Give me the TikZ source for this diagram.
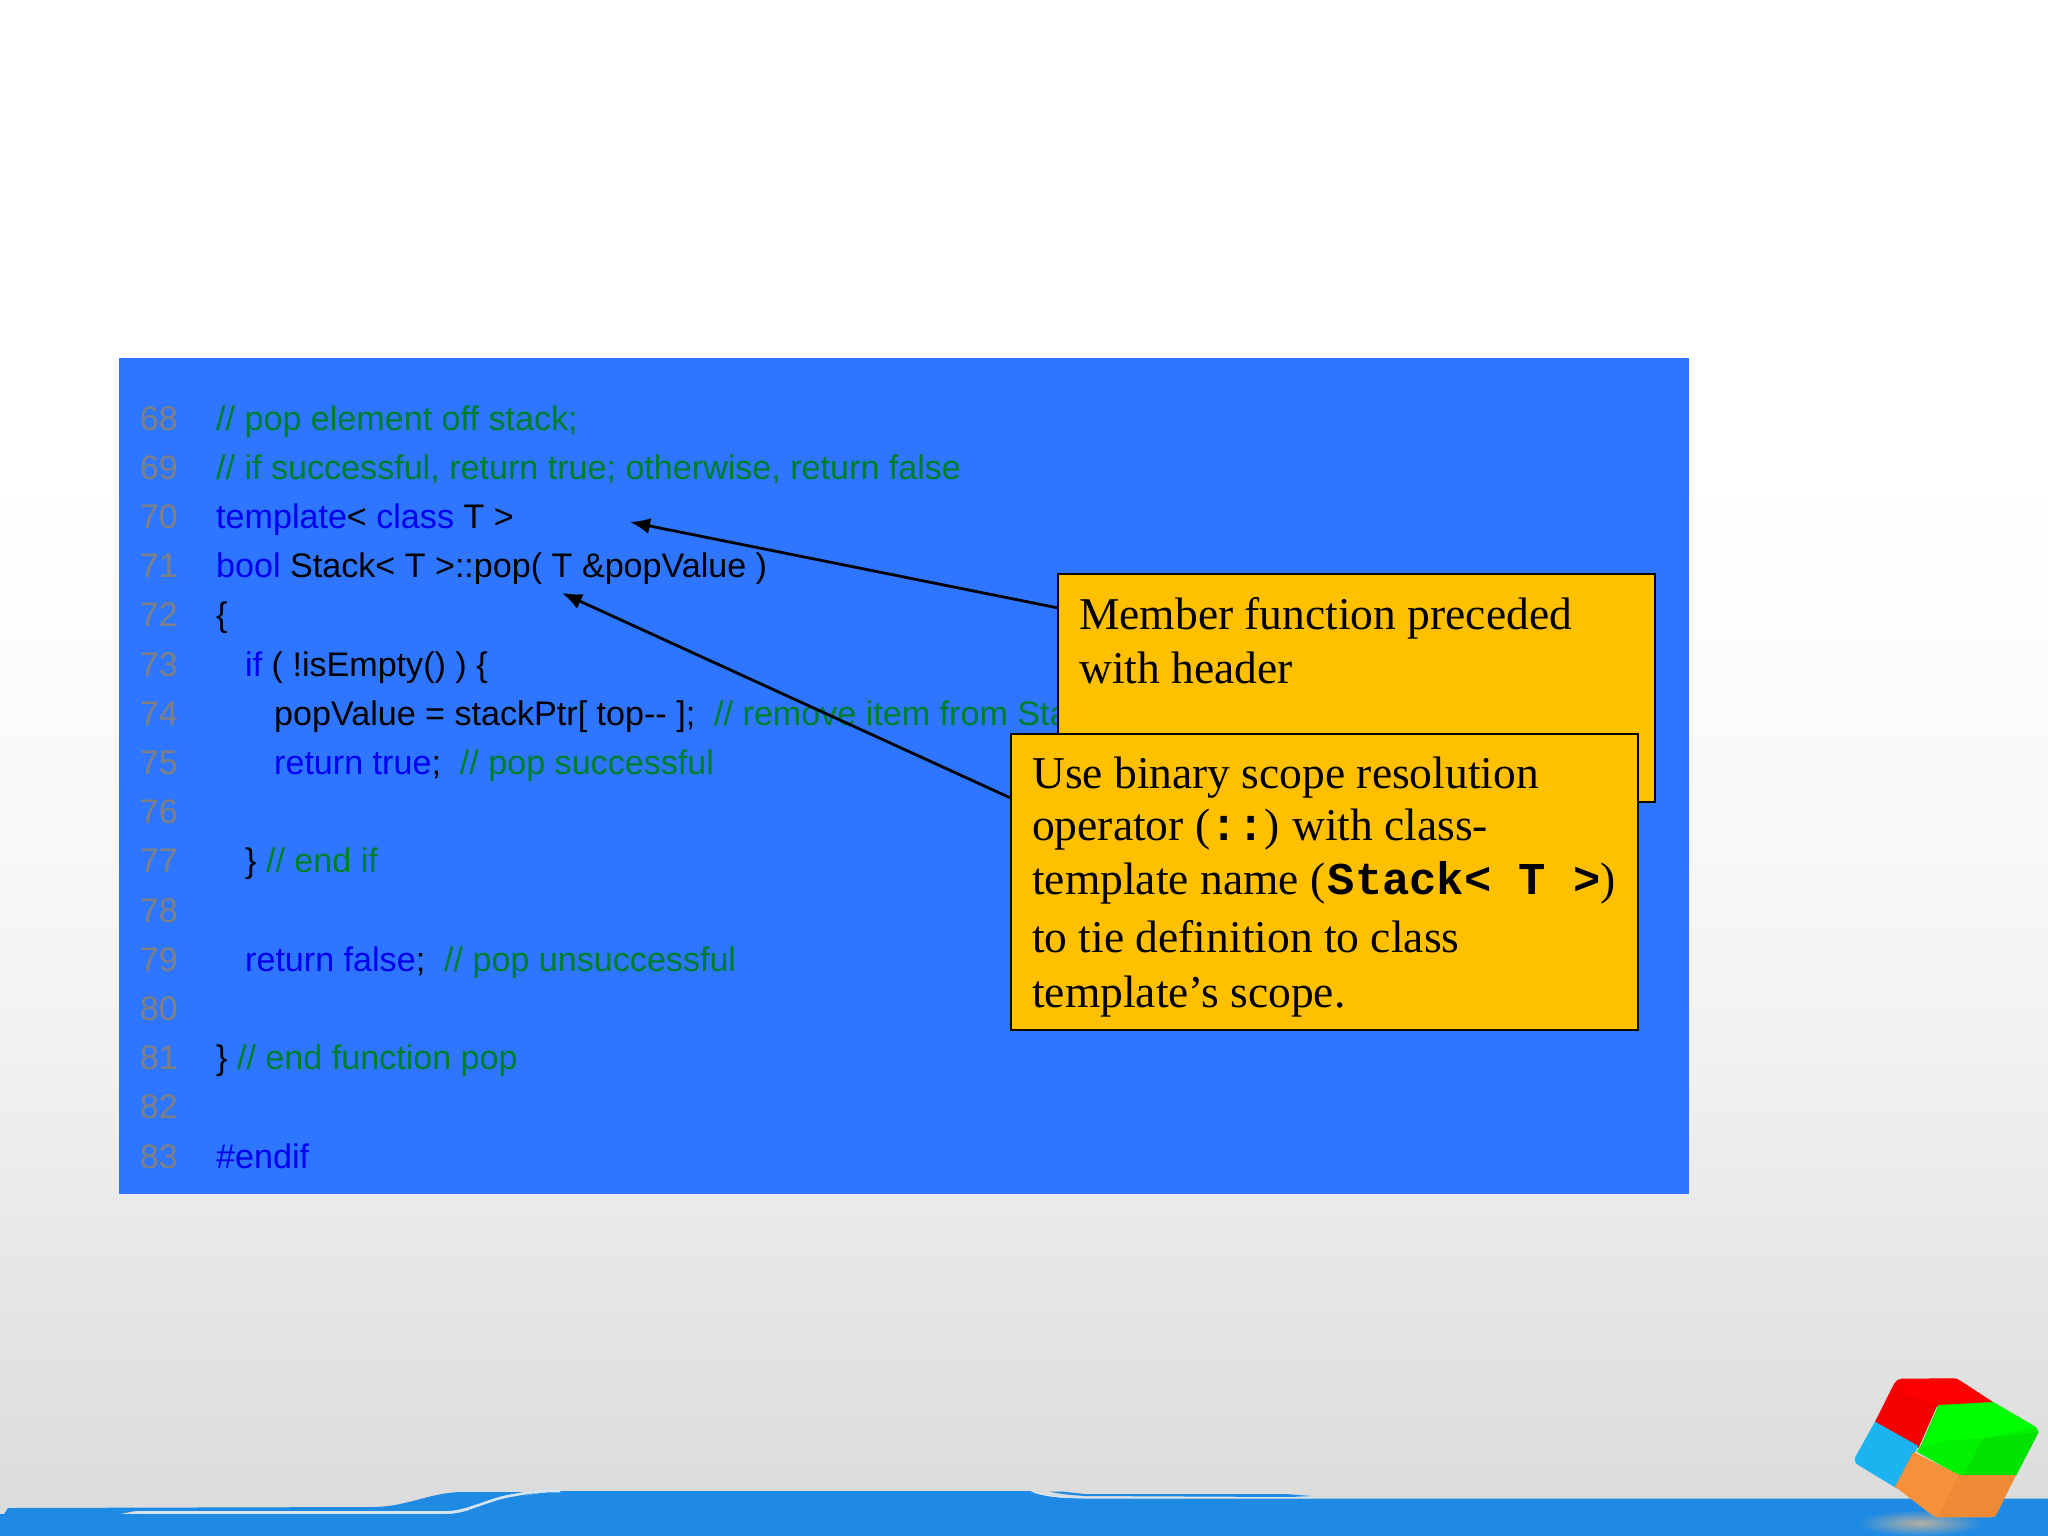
\documentclass[tikz,border=0pt]{standalone}
\usepackage{fontspec}
\usetikzlibrary{arrows.meta}
\setmainfont{Liberation Sans}
\newfontfamily\calloutserif{Liberation Serif}
\newfontfamily\calloutmono{Liberation Mono}
\definecolor{panelblue}{HTML}{2E75FF}
\definecolor{kwblue}{HTML}{0000F0}
\definecolor{cmgreen}{HTML}{007F2A}
\definecolor{numgray}{HTML}{808080}
\definecolor{calloutfill}{HTML}{FFC000}
\definecolor{bandblue}{HTML}{1F8AE4}
\definecolor{bandline}{HTML}{D4E6F4}
\definecolor{cubeblue}{HTML}{1CB4F0}
\definecolor{cubeorange}{HTML}{F4913A}
\definecolor{cubeorangedk}{HTML}{EE8A35}
\definecolor{glow}{HTML}{B4B0A0}
\pgfdeclareverticalshading{slidebg}{100bp}{
  color(0bp)=(black!14);
  color(25bp)=(black!14);
  color(26.8bp)=(black!13.5);
  color(32bp)=(black!10.5);
  color(39.6bp)=(black!6);
  color(47.3bp)=(black!2.7);
  color(55bp)=(black!0.8);
  color(60bp)=(white);
  color(100bp)=(white)}
\newcommand\kw[1]{\textcolor{kwblue}{#1}}
\newcommand\cm[1]{\textcolor{cmgreen}{#1}}
\newcommand\bm[1]{{\calloutmono\bfseries #1}}
\newcommand\numline[2]{\node[lnum] (n#1) at (139.7,#2) {#1};}
\newcommand\codeline[4]{\numline{#1}{#2}\node[code] (c#1) at (#3,#2) {#4};}
\tikzset{
  lnum/.style={anchor=base west,inner sep=0pt,text=numgray,font=\fontsize{34.1}{40}\selectfont},
  code/.style={anchor=base west,inner sep=0pt,text=black,font=\fontsize{34.1}{40}\selectfont},
  callout/.style={draw=black,line width=2.4pt,fill=calloutfill,inner sep=0pt},
  calltext/.style={anchor=base west,inner sep=0pt,text=black,font=\calloutserif\fontsize{45.5}{54}\selectfont},
  pointer/.style={draw=black,line width=2.8pt,-{Latex[length=20pt,width=16pt]}}
}
\begin{document}
\begin{tikzpicture}[x=1pt,y=-1pt]
\useasboundingbox (0,0) rectangle (2048,1536);
\shade[shading=slidebg] (0,0) rectangle (2048,1536);
% bottom band
\fill[bandblue] (0,1514) -- (445,1514) .. controls (470,1514) and (490,1500) .. (520,1497)
  .. controls (545,1491) and (560,1491) .. (580,1491) -- (1030,1491)
  .. controls (1042,1497) and (1060,1498) .. (1085,1498.5) -- (2048,1498.5) -- (2048,1536) -- (0,1536) -- cycle;
\fill[bandblue] (4,1514) -- (8,1508) -- (375,1507) .. controls (410,1506) and (430,1492) .. (464,1492)
  -- (540,1492) -- (490,1505) .. controls (470,1511) and (460,1511) .. (445,1511)
  -- (135,1511) -- (120,1514) -- cycle;
\draw[bandline,line width=2.6pt] (137,1512.5) -- (445,1512.5) .. controls (468,1512.5) and (490,1498) .. (515,1495)
  .. controls (535,1491) and (548,1491) .. (560,1491);
\fill[bandblue] (1049,1491.5) -- (1062,1491.5) -- (1085,1494) -- (1285,1494) -- (1312,1496) -- (1290,1497) -- (1085,1496) .. controls (1070,1495) and (1060,1494) .. (1049,1491.5) -- cycle;
\draw[bandline,line width=1.2pt] (1033,1491.5) .. controls (1050,1497) and (1065,1497.6) .. (1085,1497.6) -- (1312,1497.6);
% shadow of the cube
\shade[inner color=glow,outer color=bandblue] (1920,1523) ellipse [x radius=62,y radius=13];
% cube
\begin{scope}[shift={(1750,1340)},x=0.33333pt,y=-0.33333pt,line join=round]
\fill[red!96!black] (375,245) [rounded corners=5pt] -- (440,116) -- (620,115) [sharp corners] -- (735,190) -- (560,200) -- (505,325) -- cycle;
\fill[red] (452,118) -- (620,116) -- (725,185) -- (565,192) -- (470,165) -- cycle;
\fill[green!95!black] (565,195) -- (730,186) [rounded corners=6pt] -- (870,268) [sharp corners] -- (798,407) -- (628,407) -- (500,335) -- (512,318) -- cycle;
\fill[green!89!black] (700,295) -- (866,275) -- (798,407) -- (640,407) -- cycle;
\fill[green] (572,197) -- (730,188) -- (858,262) -- (700,295) -- (600,300) -- (522,318) -- cycle;
\fill[cubeblue] (375,245) -- (505,318) -- (440,445) [rounded corners=6pt] -- (308,365) [sharp corners] -- cycle;
\fill[cubeorange] (490,336) -- (628,405) -- (798,405) [rounded corners=4pt] -- (735,532) -- (555,532) [sharp corners] -- (435,440) -- cycle;
\fill[cubeorangedk] (628,405) -- (798,405) -- (735,530) -- (565,530) -- cycle;
\end{scope}
% panel
\fill[panelblue] (119,358) rectangle (1689,1194);
% code
\codeline{68}{430}{216}{\cm{// pop element off stack;}}
\codeline{69}{479.2}{216}{\cm{// if successful, return true; otherwise, return false}}
\codeline{70}{528.4}{216}{\kw{template}< \kw{class} T >}
\codeline{71}{577.6}{216}{\kw{bool} Stack< T >::pop( T \&popValue )}
\codeline{72}{626.8}{216}{\{}
\codeline{73}{676}{245}{\kw{if} ( !isEmpty() ) \{}
\codeline{74}{725.2}{274}{popValue = stackPtr[ top-{}- ];\ \ \cm{// remove item from Stack}}
\codeline{75}{774.4}{274}{\kw{return true};\ \ \cm{// pop successful}}
\numline{76}{823.6}
\codeline{77}{872.8}{245}{\} \cm{// end if}}
\numline{78}{922}
\codeline{79}{971.2}{245}{\kw{return false};\ \ \cm{// pop unsuccessful}}
\numline{80}{1020.4}
\codeline{81}{1069.6}{216}{\} \cm{// end function pop}}
\numline{82}{1118.8}
\codeline{83}{1168}{216}{\kw{\#endif}}
% callouts
\node[callout,minimum width=596.6pt,minimum height=228pt] (box1) at (1356.5,688) {};
\coordinate (tip1) at (630,522);
\draw[pointer] (box1.165) -- (tip1);
\node[calltext] (t1a) at (1079,629) {Member function preceded};
\node[calltext] (t1b) at (1079,683) {with header};
\node[callout,minimum width=626.6pt,minimum height=296.3pt] (box2) at (1324.5,882) {};
\coordinate (tip2) at (562,593);
\draw[pointer] (box2.165.7) -- (tip2);
\node[calltext] (t2a) at (1032,788) {Use binary scope resolution};
\node[calltext] (t2b) at (1032,840.5) {operator (\bm{::})\hspace{-3pt} with class-};
\node[calltext] (t2c) at (1032,894.5) {template name (\hspace{2.5pt}\bm{Stack< T >})};
\node[calltext] (t2d) at (1032,952) {to tie definition to class};
\node[calltext] (t2e) at (1032,1007) {template’s scope.};
\end{tikzpicture}
\end{document}
